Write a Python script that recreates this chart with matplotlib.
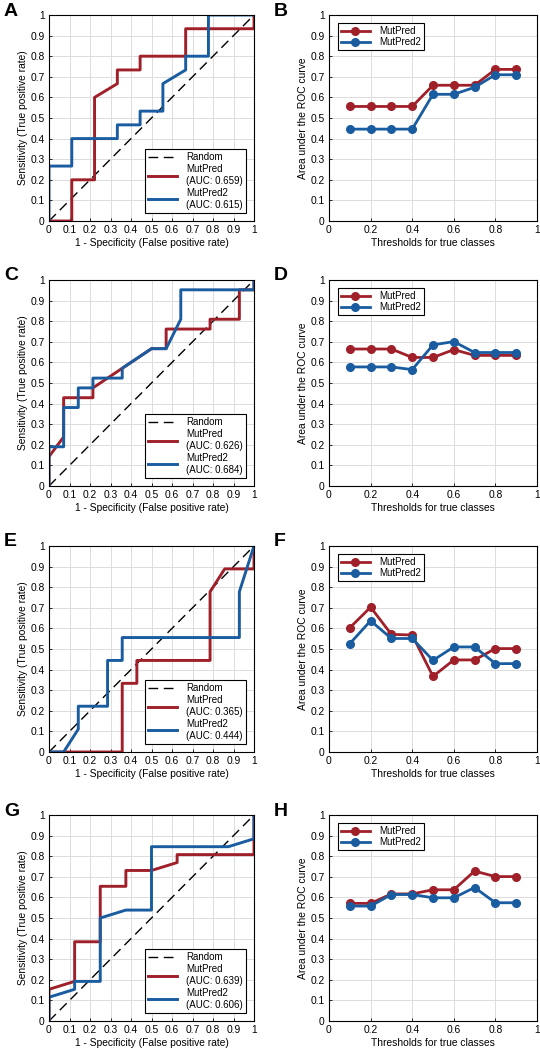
import numpy as np
import matplotlib
matplotlib.use("Agg")
import matplotlib.pyplot as plt

plt.rcParams['font.family'] = ['Liberation Sans', 'DejaVu Sans']

RED = '#A0202A'
BLUE = '#1A5CA0'

# ROC curves (false positive rate, true positive rate)
roc_a_mp_x = [0, 1/9, 1/9, 2/9, 2/9, 3/9, 3/9, 4/9, 4/9, 6/9, 6/9, 1, 1]
roc_a_mp_y = [0, 0, 3/15, 3/15, 9/15, 10/15, 11/15, 11/15, 12/15, 12/15, 14/15, 14/15, 1]
roc_a_mp2_x = [0, 0, 1/9, 1/9, 3/9, 3/9, 4/9, 4/9, 5/9, 5/9, 6/9, 6/9, 7/9, 7/9, 1]
roc_a_mp2_y = [0, 4/15, 4/15, 6/15, 6/15, 7/15, 7/15, 8/15, 8/15, 10/15, 11/15, 12/15, 12/15, 1, 1]

roc_c_mp_x = [0, 0, 1/14, 1/14, 3/14, 3/14, 5/14, 7/14, 8/14, 8/14, 11/14, 11/14, 13/14, 13/14, 1, 1]
roc_c_mp_y = [0, 3/21, 5/21, 9/21, 9/21, 10/21, 12/21, 14/21, 14/21, 16/21, 16/21, 17/21, 17/21, 20/21, 20/21, 1]
roc_c_mp2_x = [0, 0, 1/14, 1/14, 2/14, 2/14, 3/14, 3/14, 5/14, 5/14, 7/14, 8/14, 9/14, 9/14, 1, 1]
roc_c_mp2_y = [0, 4/21, 4/21, 8/21, 8/21, 10/21, 10/21, 11/21, 11/21, 12/21, 14/21, 14/21, 17/21, 20/21, 20/21, 1]

roc_e_mp_x = [0, 5/14, 5/14, 6/14, 6/14, 11/14, 11/14, 12/14, 1, 1]
roc_e_mp_y = [0, 0, 3/9, 3/9, 4/9, 4/9, 7/9, 8/9, 8/9, 1]
roc_e_mp2_x = [0, 1/14, 2/14, 2/14, 4/14, 4/14, 5/14, 5/14, 13/14, 13/14, 1]
roc_e_mp2_y = [0, 0, 1/9, 2/9, 2/9, 4/9, 4/9, 5/9, 5/9, 7/9, 1]

roc_g_mp_x = [0, 0, 1/8, 1/8, 2/8, 2/8, 3/8, 3/8, 4/8, 5/8, 5/8, 1, 1]
roc_g_mp_y = [0, 4/26, 5/26, 10/26, 10/26, 17/26, 17/26, 19/26, 19/26, 20/26, 21/26, 21/26, 1]
roc_g_mp2_x = [0, 0, 1/8, 1/8, 2/8, 2/8, 3/8, 4/8, 4/8, 7/8, 1, 1]
roc_g_mp2_y = [0, 3/26, 4/26, 5/26, 5/26, 13/26, 14/26, 14/26, 22/26, 22/26, 23/26, 1]

auc_a = (0.659, 0.615)
auc_c = (0.626, 0.684)
auc_e = (0.365, 0.444)
auc_g = (0.639, 0.606)

# AUC vs threshold
thresholds = [0.1, 0.2, 0.3, 0.4, 0.5, 0.6, 0.7, 0.8, 0.9]
b_mp = [0.556, 0.556, 0.556, 0.556, 0.659, 0.659, 0.659, 0.736, 0.736]
b_mp2 = [0.446, 0.446, 0.446, 0.446, 0.615, 0.615, 0.649, 0.710, 0.710]
d_mp = [0.665, 0.665, 0.665, 0.624, 0.624, 0.662, 0.634, 0.634, 0.634]
d_mp2 = [0.578, 0.578, 0.578, 0.565, 0.685, 0.701, 0.648, 0.648, 0.648]
f_mp = [0.603, 0.703, 0.571, 0.568, 0.367, 0.447, 0.447, 0.502, 0.502]
f_mp2 = [0.526, 0.637, 0.551, 0.551, 0.445, 0.510, 0.510, 0.429, 0.429]
h_mp = [0.571, 0.571, 0.617, 0.617, 0.637, 0.637, 0.728, 0.701, 0.701]
h_mp2 = [0.558, 0.558, 0.614, 0.614, 0.598, 0.598, 0.648, 0.574, 0.574]

W, H = 540, 1050
fig = plt.figure(figsize=(W / 100, H / 100), dpi=100)
FS = 7.4
LFS = 7.0


def make_ax(left, top, width, height):
    ax = fig.add_axes([left / W, 1 - (top + height) / H, width / W, height / H])
    ax.set_xlim(0, 1)
    ax.set_ylim(0, 1)
    ax.grid(True, color='#dcdcdc', linewidth=0.7)
    ax.set_axisbelow(True)
    ax.tick_params(direction='in', length=2.5, width=0.6, labelsize=FS, pad=3)
    for sp in ax.spines.values():
        sp.set_linewidth(0.8)
    ax.set_yticks(np.arange(0, 1.01, 0.1))
    ax.set_yticklabels(['0'] + ['%.1f' % v for v in np.arange(0.1, 0.95, 0.1)] + ['1'])
    return ax


def roc_panel(top, letter, mpx, mpy, mp2x, mp2y, auc):
    ax = make_ax(49, top, 205, 206)
    ax.set_xticks(np.arange(0, 1.01, 0.1))
    ax.set_xticklabels(['0'] + ['%.1f' % v for v in np.arange(0.1, 0.95, 0.1)] + ['1'])
    ax.plot([0, 1], [0, 1], color='black', linestyle=(0, (7, 4)), linewidth=1.0, label='Random')
    ax.plot(mpx, mpy, color=RED, linewidth=2.1, label='MutPred\n(AUC: %.3f)' % auc[0])
    ax.plot(mp2x, mp2y, color=BLUE, linewidth=2.1, label='MutPred2\n(AUC: %.3f)' % auc[1])
    ax.set_xlabel('1 - Specificity (False positive rate)', fontsize=FS, labelpad=2)
    ax.set_ylabel('Sensitivity (True positive rate)', fontsize=FS, labelpad=2)
    leg = ax.legend(loc='lower right', bbox_to_anchor=(0.961, 0.039), borderaxespad=0,
                    fontsize=LFS, fancybox=False, edgecolor='black', framealpha=1,
                    handlelength=3.0, borderpad=0.35, labelspacing=0.2, handletextpad=0.9)
    leg.get_frame().set_linewidth(0.8)
    fig.text(4 / W, 1 - (top - 4) / H, letter, fontsize=14, fontweight='bold', va='center')


def auc_panel(top, letter, mp, mp2):
    ax = make_ax(329, top, 208, 206)
    ax.set_xticks(np.arange(0, 1.01, 0.2))
    ax.set_xticklabels(['0', '0.2', '0.4', '0.6', '0.8', '1'])
    ax.plot(thresholds, mp, color=RED, linewidth=2.0, marker='o', markersize=5.5, label='MutPred')
    ax.plot(thresholds, mp2, color=BLUE, linewidth=2.0, marker='o', markersize=5.5, label='MutPred2')
    ax.set_xlabel('Thresholds for true classes', fontsize=FS, labelpad=2)
    ax.set_ylabel('Area under the ROC curve', fontsize=FS, labelpad=2)
    leg = ax.legend(loc='upper left', bbox_to_anchor=(0.043, 0.961), borderaxespad=0,
                    fontsize=LFS, fancybox=False, edgecolor='black', framealpha=1,
                    handlelength=3.0, borderpad=0.3, labelspacing=0.1, handletextpad=0.9)
    leg.get_frame().set_linewidth(0.8)
    fig.text(274 / W, 1 - (top - 4) / H, letter, fontsize=14, fontweight='bold', va='center')


roc_panel(15, 'A', roc_a_mp_x, roc_a_mp_y, roc_a_mp2_x, roc_a_mp2_y, auc_a)
auc_panel(15, 'B', b_mp, b_mp2)
roc_panel(280, 'C', roc_c_mp_x, roc_c_mp_y, roc_c_mp2_x, roc_c_mp2_y, auc_c)
auc_panel(280, 'D', d_mp, d_mp2)
roc_panel(546, 'E', roc_e_mp_x, roc_e_mp_y, roc_e_mp2_x, roc_e_mp2_y, auc_e)
auc_panel(546, 'F', f_mp, f_mp2)
roc_panel(815, 'G', roc_g_mp_x, roc_g_mp_y, roc_g_mp2_x, roc_g_mp2_y, auc_g)
auc_panel(815, 'H', h_mp, h_mp2)

fig.savefig('out.png', dpi=100)
